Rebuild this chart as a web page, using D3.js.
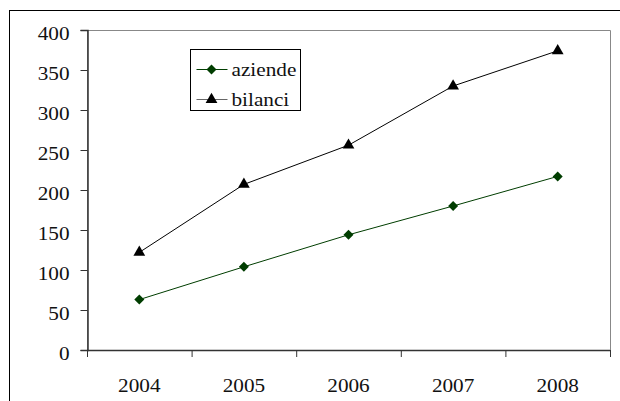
<!DOCTYPE html>
<html>
<head>
<meta charset="utf-8">
<script src="https://cdn.jsdelivr.net/npm/d3@7"></script>
<style>
  body { margin: 0; background: #fff; }
  svg text { font-family: "Liberation Serif", serif !important; font-size: 18px; }
</style>
</head>
<body>
<div id="chart"></div>
<script>
// data
var years = ["2004", "2005", "2006", "2007", "2008"];
var aziende = [63, 104, 144, 180, 217];
var bilanci = [122, 207, 256, 330, 374];
var yTicks = [0, 50, 100, 150, 200, 250, 300, 350, 400];

var width = 620, height = 401;
var margin = {top: 30, right: 10, bottom: 51, left: 87};

var svg = d3.select('#chart')
    .append('svg')
    .attr('width', width)
    .attr('height', height);

// outer frame (runs past the right and bottom edge)
svg.append('rect')
    .attr('x', 9.5).attr('y', 10.5)
    .attr('width', 640).attr('height', 420)
    .attr('fill', 'none')
    .attr('stroke', '#000');

var plotW = width - margin.left - margin.right;
var plotH = height - margin.top - margin.bottom;

var g = svg.append('g')
    .attr('transform', 'translate(' + margin.left + ',' + margin.top + ')');

var x = d3.scaleBand().domain(years).range([0, plotW]);
var y = d3.scaleLinear().domain([0, 400]).range([plotH, 0]);

// plot area border (top and right in grey)
g.append('path')
    .attr('d', 'M0.5,' + plotH + 'V0.5H' + (plotW + 0.5) + 'V' + plotH)
    .attr('fill', 'none')
    .attr('stroke', '#888');

var yAxis = g.append('g')
    .attr('transform', 'translate(0.5,0)')
    .call(d3.axisLeft(y).tickValues(yTicks).tickSize(7).tickPadding(11));

var xAxis = g.append('g')
    .attr('transform', 'translate(0,' + (plotH + 0.5) + ')')
    .call(d3.axisBottom(x).tickSize(0).tickPadding(29));

// x ticks sit between categories
g.selectAll('.xtick')
    .data(years.concat(['end']))
    .enter().append('line')
    .attr('class', 'xtick')
    .attr('x1', function (d, i) { return i * x.step() + 0.5; })
    .attr('x2', function (d, i) { return i * x.step() + 0.5; })
    .attr('y1', plotH)
    .attr('y2', plotH + 7)
    .attr('stroke', '#333');

[yAxis, xAxis].forEach(function (a) {
    a.attr('font-family', null).attr('font-size', null);
    a.selectAll('path.domain').attr('stroke', '#333').attr('stroke-width', 1.5);
    a.selectAll('.tick line').attr('stroke', '#333');
    a.selectAll('text').attr('fill', '#111');
});
yAxis.selectAll('text').attr('dy', '0.5em');
xAxis.select('path.domain').attr('d', 'M0,0H' + plotW);

var cx = function (d, i) { return x(years[i]) + x.bandwidth() / 2; };

var line = d3.line()
    .x(function (d, i) { return cx(d, i); })
    .y(function (d) { return y(d); });

// diamond = square turned 45 degrees
var series = [
    {name: 'aziende', values: aziende, color: '#003d00', symbol: d3.symbolSquare, size: 50, rot: 45},
    {name: 'bilanci', values: bilanci, color: '#000', symbol: d3.symbolTriangle, size: 60, rot: 0}
];

series.forEach(function (s) {
    g.append('path')
        .datum(s.values)
        .attr('fill', 'none')
        .attr('stroke', s.color)
        .attr('stroke-width', 1)
        .attr('d', line);

    g.selectAll('.pt-' + s.name)
        .data(s.values)
        .enter().append('path')
        .attr('class', 'pt-' + s.name)
        .attr('transform', function (d, i) {
            return 'translate(' + cx(d, i) + ',' + y(d) + ') rotate(' + s.rot + ')';
        })
        .attr('d', d3.symbol().type(s.symbol).size(s.size))
        .attr('fill', s.color);
});

// legend
var legend = svg.append('g').attr('transform', 'translate(190.5,49.5)');
legend.append('rect')
    .attr('width', 110).attr('height', 61)
    .attr('fill', '#fff')
    .attr('stroke', '#000');

var item = legend.selectAll('.item')
    .data(series)
    .enter().append('g')
    .attr('class', 'item')
    .attr('transform', function (d, i) { return 'translate(0,' + (20 + i * 30) + ')'; });

item.append('line')
    .attr('x1', 6).attr('x2', 37)
    .attr('stroke', function (d) { return d.name == 'bilanci' ? '#666' : d.color; });

item.append('path')
    .attr('transform', function (d) { return 'translate(21,0) rotate(' + d.rot + ')'; })
    .attr('d', function (d) { return d3.symbol().type(d.symbol).size(d.size)(); })
    .attr('fill', function (d) { return d.color; });

item.append('text')
    .attr('x', 41)
    .attr('y', 6)
    .attr('fill', '#111')
    .text(function (d) { return d.name; });

// the original text is a bit wider than the font: stretch it sideways
var stretch = 1.18;
svg.selectAll('text').each(function () {
    var t = d3.select(this);
    var x0 = +t.attr('x') || 0;
    t.attr('x', x0 / stretch)
        .attr('transform', 'scale(' + stretch + ',1)');
});
</script>
</body>
</html>
